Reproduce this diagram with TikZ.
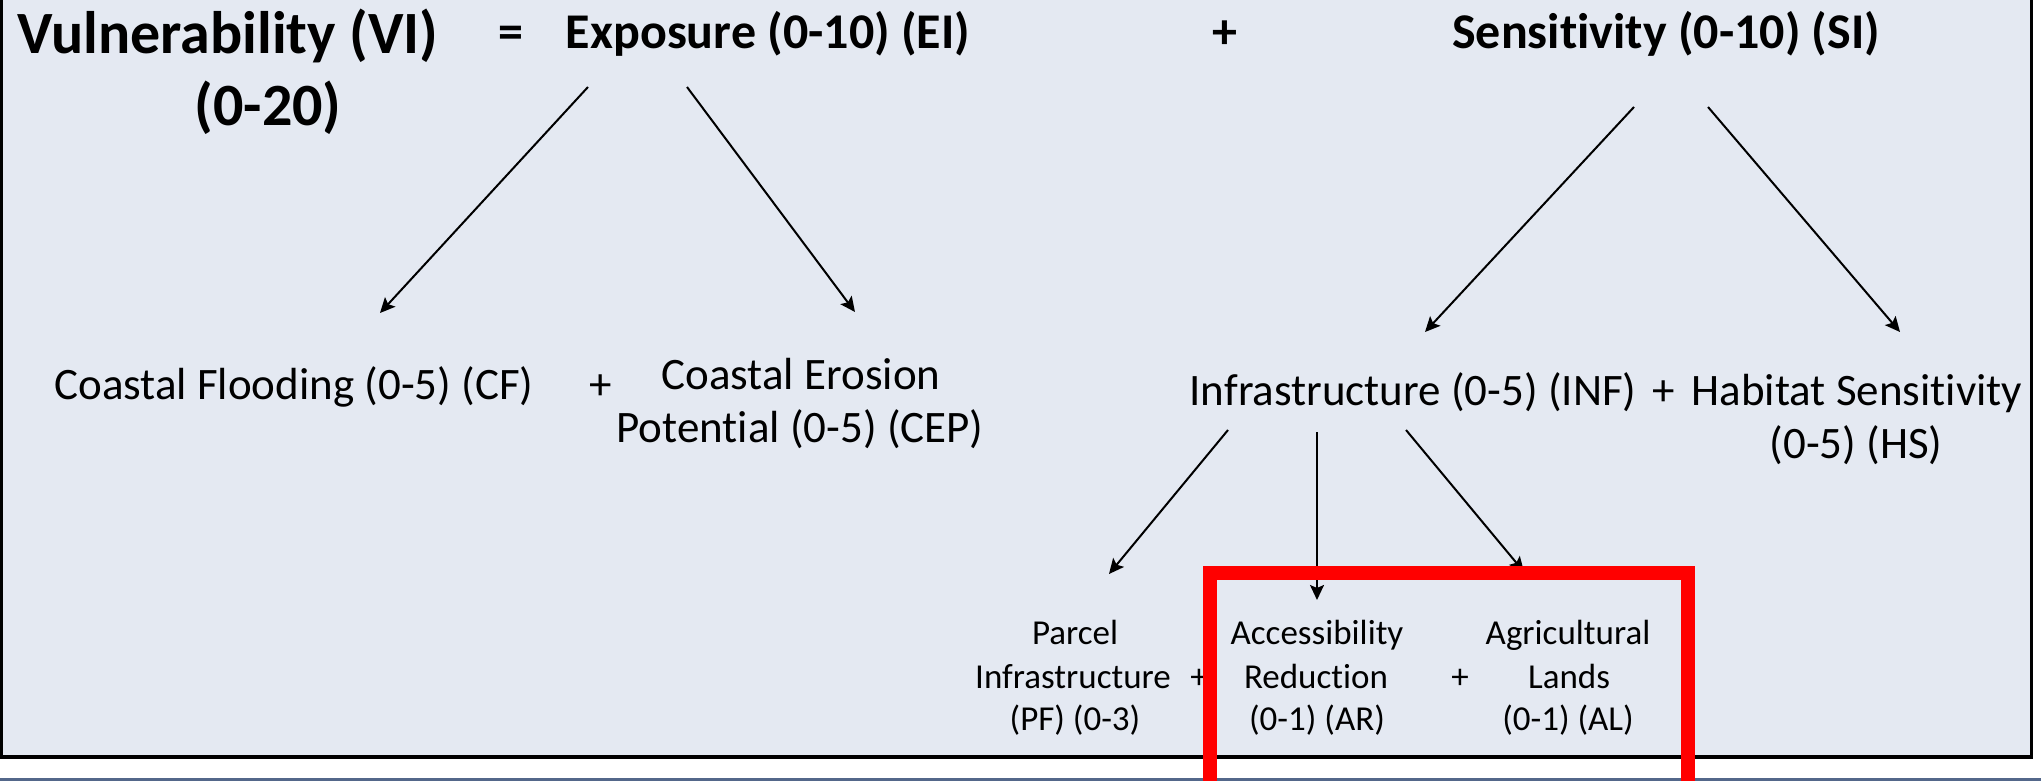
\documentclass[tikz,border=0pt]{standalone}
\usepackage{fontspec}
\setmainfont{Carlito}[Ligatures=NoCommon]
\usetikzlibrary{arrows.meta}
\definecolor{bgpanel}{HTML}{E4E9F2}
\definecolor{barblue}{HTML}{53678A}
\definecolor{hilite}{HTML}{FF0000}
\begin{document}
\begin{tikzpicture}[x=1pt,y=-1pt,
  big/.style={font=\fontsize{60}{72}\selectfont\bfseries, inner sep=0pt, anchor=base},
  head/.style={font=\fontsize{50}{60}\selectfont\bfseries, inner sep=0pt, anchor=base},
  mid/.style={font=\fontsize{45}{55}\selectfont, inner sep=0pt, anchor=base},
  low/.style={font=\fontsize{35}{43}\selectfont, inner sep=0pt, anchor=base},
  arr/.style={draw=black, line width=2pt, -{Stealth[length=15pt,width=14pt,inset=3pt]}},
]
\useasboundingbox (0,0) rectangle (2041,781);
\clip (0,0) rectangle (2041,781);
\fill[white] (0,0) rectangle (2041,781);
\draw[fill=bgpanel, line width=3pt] (1.5,-10) rectangle (2031,757);
\draw[line width=4pt] (0,757) -- (2032.5,757);
\fill[barblue] (0,778) rectangle (2041,781);

% top row
\node[big] (VI) at (228,54) {Vulnerability (VI)};
\node[big] (VIr) at (268,125) {(0-20)};
\node[head] (eq) at (511,49) {=};
\node[head] (EI) at (768,49) {Exposure (0-10) (EI)};
\node[head] (plusA) at (1225,49) {+};
\node[head] (SI) at (1666,49) {Sensitivity (0-10) (SI)};

% middle row
\node[mid] (CF) at (294,399) {Coastal Flooding (0-5) (CF)};
\node[mid] (plusB) at (601,399) {+};
\node[mid] (CEPa) at (801,389) {Coastal Erosion};
\node[mid] (CEPb) at (800,442) {Potential (0-5) (CEP)};
\node[mid] (INF) at (1413,405) {Infrastructure (0-5) (INF)};
\node[mid] (plusC) at (1664,405) {+};
\node[mid] (HSa) at (1857,405) {Habitat Sensitivity};
\node[mid] (HSb) at (1856,458) {(0-5) (HS)};

% bottom row
\node[low] (PFa) at (1075,644) {Parcel};
\node[low] (PFb) at (1073,688) {Infrastructure};
\node[low] (PFc) at (1075,730) {(PF) (0-3)};
\node[low] (plusD) at (1199,688) {+};
\node[low] (ARa) at (1317,644) {Accessibility};
\node[low] (ARb) at (1316,688) {Reduction};
\node[low] (ARc) at (1317,730) {(0-1) (AR)};
\node[low] (plusE) at (1460,688) {+};
\node[low] (ALa) at (1568,644) {Agricultural};
\node[low] (ALb) at (1569,688) {Lands};
\node[low] (ALc) at (1568,730) {(0-1) (AL)};

% connector ends
\coordinate (eiL) at (588,87);
\coordinate (eiR) at (687,87);
\coordinate (cfT) at (380,313);
\coordinate (cepT) at (855,312);
\coordinate (siL) at (1634,107);
\coordinate (siR) at (1708,107);
\coordinate (infT) at (1425,332);
\coordinate (hsT) at (1900,332);
\coordinate (infL) at (1228,430);
\coordinate (infM) at (1317,432);
\coordinate (infR) at (1406,430);
\coordinate (pfT) at (1109,574);
\coordinate (arT) at (1317,600);
\coordinate (alT) at (1524,572);

\draw[arr] (eiL) -- (cfT);
\draw[arr] (eiR) -- (cepT);
\draw[arr] (siL) -- (infT);
\draw[arr] (siR) -- (hsT);
\draw[arr] (infL) -- (pfT);
\draw[arr] (infM) -- (arT);
\draw[arr] (infR) -- (alT);

% red highlight
\draw[hilite, line width=14pt] (1210,800) -- (1210,573) -- (1688,573) -- (1688,800);
\end{tikzpicture}
\end{document}
